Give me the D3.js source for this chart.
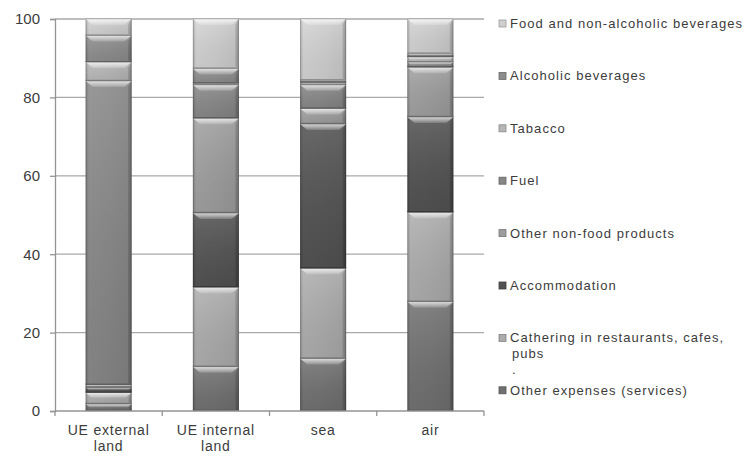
<!DOCTYPE html>
<html>
<head>
<meta charset="utf-8">
<script src="https://cdn.jsdelivr.net/npm/d3@7/dist/d3.min.js"></script>
<style>
  html, body { margin: 0; padding: 0; background: #fff; }
  svg { display: block; font-family: "Liberation Sans", Arial, sans-serif; }
</style>
</head>
<body>
<svg id="chart" width="747" height="456"></svg>
<script>
// Categories (x axis) and their wrapped labels
const categories = ["UE external land", "UE internal land", "sea", "air"];
const categoryLines = [["UE external", "land"], ["UE internal", "land"], ["sea"], ["air"]];

// Series values, percent of spending, stacked from the bottom up
const otherExpenses = [1.8, 11.3, 13.4, 27.9];
const cathering     = [2.9, 20.3, 23.0, 22.8];
const accommodation = [1.3, 18.9, 36.8, 24.3];
const otherNonFood  = [0.7, 24.2, 4.0, 12.7];
const fuel          = [77.5, 8.5, 6.0, 1.3];
const tabacco       = [4.8, 0.4, 0.6, 1.3];
const alcoholic     = [6.8, 3.8, 0.6, 0.9];
const food          = [4.2, 12.6, 15.6, 8.8];

const seriesKeys = ["otherExpenses", "cathering", "accommodation", "otherNonFood",
                    "fuel", "tabacco", "alcoholic", "food"];
const seriesValues = { otherExpenses, cathering, accommodation, otherNonFood,
                       fuel, tabacco, alcoholic, food };
const seriesNames = {
  food: ["Food and non-alcoholic beverages"],
  alcoholic: ["Alcoholic beverages"],
  tabacco: ["Tabacco"],
  fuel: ["Fuel"],
  otherNonFood: ["Other non-food products"],
  accommodation: ["Accommodation"],
  cathering: ["Cathering in restaurants, cafes,", "pubs", "."],
  otherExpenses: ["Other expenses (services)"]
};
const seriesColors = {
  otherExpenses: "#707070",
  cathering: "#ababab",
  accommodation: "#525252",
  otherNonFood: "#9d9d9d",
  fuel: "#868686",
  tabacco: "#b6b6b6",
  alcoholic: "#8c8c8c",
  food: "#cfcfcf"
};
const yTicks = [0, 20, 40, 60, 80, 100];

// Layout
const plot = { left: 55, right: 484, top: 19, bottom: 411 };
const svg = d3.select("#chart");
const defs = svg.append("defs");

const x = d3.scaleBand().domain(categories)
  .range([plot.left, plot.right]).paddingInner(0.571).paddingOuter(0.2855);
const y = d3.scaleLinear().domain([0, 100]).range([plot.bottom, plot.top]);

const table = categories.map((c, i) => {
  const row = { category: c };
  seriesKeys.forEach(k => row[k] = seriesValues[k][i]);
  return row;
});
const stacked = d3.stack().keys(seriesKeys)(table);

// Gradients: horizontal edge shading per colour, plus shared overlays
seriesKeys.forEach(k => {
  const base = d3.color(seriesColors[k]);
  const g = defs.append("linearGradient").attr("id", "h-" + k)
    .attr("x1", 0).attr("x2", 1).attr("y1", 0).attr("y2", 0);
  g.append("stop").attr("offset", "0%").attr("stop-color", base.darker(0.55));
  g.append("stop").attr("offset", "7%").attr("stop-color", base.brighter(0.08));
  g.append("stop").attr("offset", "50%").attr("stop-color", base);
  g.append("stop").attr("offset", "93%").attr("stop-color", base.darker(0.12));
  g.append("stop").attr("offset", "100%").attr("stop-color", base.darker(0.65));
});
const vShade = defs.append("linearGradient").attr("id", "v-shade")
  .attr("x1", 0).attr("x2", 0).attr("y1", 0).attr("y2", 1);
vShade.append("stop").attr("offset", "0%").attr("stop-color", "#fff").attr("stop-opacity", 0.12);
vShade.append("stop").attr("offset", "100%").attr("stop-color", "#000").attr("stop-opacity", 0.06);
const bevel = defs.append("linearGradient").attr("id", "bevel-top")
  .attr("x1", 0).attr("x2", 0).attr("y1", 0).attr("y2", 1);
bevel.append("stop").attr("offset", "0%").attr("stop-color", "#fff").attr("stop-opacity", 0.75);
bevel.append("stop").attr("offset", "100%").attr("stop-color", "#fff").attr("stop-opacity", 0.15);

// Gridlines
svg.append("g").selectAll("line").data(yTicks.filter(t => t > 0)).join("line")
  .attr("x1", plot.left).attr("x2", plot.right)
  .attr("y1", d => y(d)).attr("y2", d => y(d))
  .attr("stroke", "#a9a9a9").attr("stroke-width", 1.3);

// Bars
const barLayer = svg.append("g");
stacked.forEach(layer => {
  const k = layer.key;
  layer.forEach((d, i) => {
    const x0 = x(categories[i]);
    const w = x.bandwidth();
    const yt = y(d[1]);
    const yb = y(d[0]);
    const h = yb - yt;
    if (h <= 0) return;
    const g = barLayer.append("g");
    g.append("rect").attr("x", x0).attr("y", yt).attr("width", w).attr("height", h)
      .attr("fill", `url(#h-${k})`);
    g.append("rect").attr("x", x0).attr("y", yt).attr("width", w).attr("height", h)
      .attr("fill", "url(#v-shade)");
    const b = Math.min(6, h / 2.2);
    if (b > 0.6) {
      g.append("polygon")
        .attr("points", [[x0, yt], [x0 + w, yt], [x0 + w - b * 1.2, yt + b], [x0 + b * 1.2, yt + b]].map(p => p.join(",")).join(" "))
        .attr("fill", "url(#bevel-top)");
      g.append("polygon")
        .attr("points", [[x0 + w, yt], [x0 + w, yb], [x0 + w - b * 0.6, yb - b * 0.3], [x0 + w - b * 0.6, yt + b]].map(p => p.join(",")).join(" "))
        .attr("fill", "#000").attr("fill-opacity", 0.12);
    }
    // separating edge along the segment's lower side
    g.append("line").attr("x1", x0).attr("x2", x0 + w).attr("y1", yb - 0.6).attr("y2", yb - 0.6)
      .attr("stroke", d3.color(seriesColors[k]).darker(0.9)).attr("stroke-width", 1.2);
    g.append("rect").attr("x", x0 + 0.4).attr("y", yt).attr("width", w - 0.8).attr("height", h)
      .attr("fill", "none").attr("stroke", "#000").attr("stroke-opacity", 0.18).attr("stroke-width", 0.8);
  });
});

// Y axis
const yAxis = svg.append("g").attr("transform", `translate(${plot.left},0)`)
  .call(d3.axisLeft(y).tickValues(yTicks).tickSize(5).tickPadding(10).tickFormat(d3.format("d")));
yAxis.select(".domain").attr("stroke", "#949494").attr("stroke-width", 1.3);
yAxis.selectAll(".tick line").attr("stroke", "#949494").attr("stroke-width", 1.3);
yAxis.selectAll(".tick text").attr("fill", "#3c3c3c").attr("font-size", 15)
  .attr("font-family", "Liberation Sans, Arial, sans-serif");

// X axis: baseline with ticks between categories
const xAxis = svg.append("g");
xAxis.append("line").attr("x1", plot.left).attr("x2", plot.right)
  .attr("y1", plot.bottom).attr("y2", plot.bottom)
  .attr("stroke", "#949494").attr("stroke-width", 1.3);
const boundaries = d3.range(categories.length + 1).map(i => plot.left + i * x.step());
xAxis.selectAll("line.tk").data(boundaries).join("line").attr("class", "tk")
  .attr("x1", d => d).attr("x2", d => d).attr("y1", plot.bottom).attr("y2", plot.bottom + 5)
  .attr("stroke", "#949494").attr("stroke-width", 1.3);
categories.forEach((c, i) => {
  categoryLines[i].forEach((ln, j) => {
    xAxis.append("text").attr("x", x(c) + x.bandwidth() / 2).attr("y", 435 + j * 16)
      .attr("text-anchor", "middle").attr("fill", "#3c3c3c").attr("font-size", 14)
      .attr("letter-spacing", 0.8).text(ln);
  });
});

// Legend, listed top-down in reverse stack order
const legendKeys = seriesKeys.slice().reverse();
const legend = svg.append("g");
legendKeys.forEach((k, i) => {
  const base = 28 + i * 52.4;
  legend.append("rect").attr("x", 499).attr("y", base - 8).attr("width", 7).attr("height", 7)
    .attr("fill", seriesColors[k]).attr("stroke", d3.color(seriesColors[k]).darker(0.8))
    .attr("stroke-width", 0.8);
  seriesNames[k].forEach((ln, j) => {
    legend.append("text").attr("x", j === 0 ? 510 : 512).attr("y", base + j * 16)
      .attr("fill", "#3c3c3c").attr("font-size", 13).attr("letter-spacing", 1.05).text(ln);
  });
});
</script>
</body>
</html>
